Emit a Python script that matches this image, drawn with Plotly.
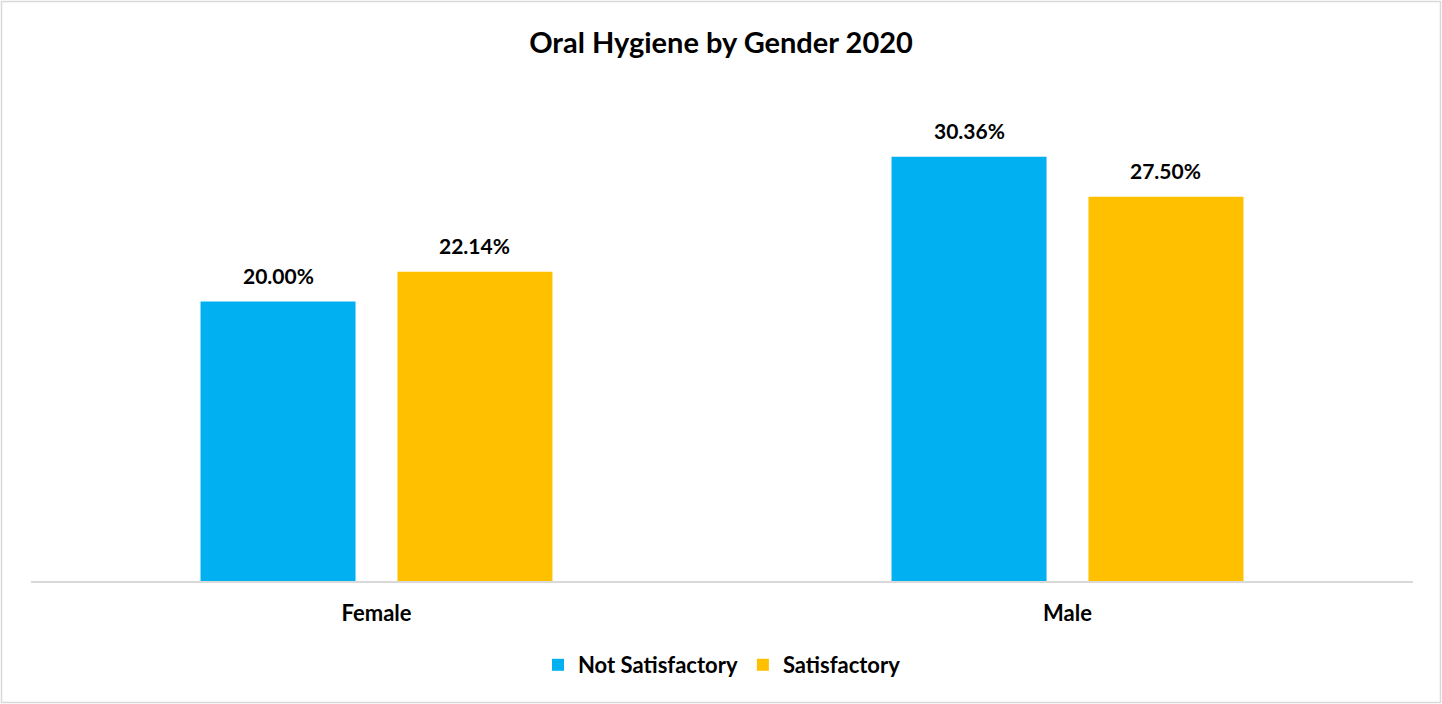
import plotly.graph_objects as go

categories = ["Female", "Male"]
not_satisfactory = [0.2000, 0.3036]
satisfactory = [0.2214, 0.2750]
series_names = ["Not Satisfactory", "Satisfactory"]
colors = ["#00B0F0", "#FFC000"]
title_text = "Oral Hygiene by Gender 2020"

W, H = 1442, 704
ML, MR, MT, MB = 31, 29, 92, 123
PW, PH = W - ML - MR, H - MT - MB

FONT = "Lato"

fig = go.Figure()
for name, vals, col in zip(series_names, [not_satisfactory, satisfactory], colors):
    fig.add_trace(go.Bar(
        x=categories, y=vals, name=f"<b>{name}</b>",
        marker=dict(color=col, line=dict(width=0)),
        hoverinfo="skip",
    ))

# data labels
slot = PW / len(categories) * (1 - 0.43) / 2
for i, vals in enumerate([not_satisfactory, satisfactory]):
    off = (i - 0.5) * slot
    for c, v in zip(categories, vals):
        fig.add_annotation(
            x=c, y=v, xref="x", yref="y", text=f"<b>{v*100:.2f}%</b>",
            showarrow=False, xshift=off, yanchor="bottom", yshift=12,
            font=dict(family=FONT, size=21, color="#000000"),
        )

# chart border
fig.add_shape(
    type="rect", xref="paper", yref="paper",
    x0=-(ML - 1.5) / PW, x1=1 + (MR - 1.5) / PW,
    y0=-(MB - 1.5) / PH, y1=1 + (MT - 1.5) / PH,
    line=dict(color="#D9D9D9", width=1.5), fillcolor="rgba(0,0,0,0)",
)

fig.update_layout(
    width=W, height=H,
    margin=dict(l=ML, r=MR, t=MT, b=MB, pad=0),
    paper_bgcolor="white", plot_bgcolor="white",
    barmode="group", bargap=0.43, bargroupgap=0.213,
    title=dict(text=f"<b>{title_text}</b>", x=0.5, xanchor="center",
               y=1 - 43 / H, yanchor="middle",
               font=dict(family=FONT, size=29, color="#000000")),
    xaxis=dict(showline=True, linecolor="#D9D9D9", linewidth=1.5,
               showgrid=False, ticks="", zeroline=False,
               ticklabelstandoff=12,
               tickfont=dict(family=FONT, size=22, color="#000000"),
               tickprefix="<b>", ticksuffix="</b>"),
    yaxis=dict(range=[0, 0.35], showgrid=False, showticklabels=False,
               zeroline=False, showline=False),
    legend=dict(orientation="h", x=0.5, xanchor="center",
                y=-(665 - 581) / PH, yanchor="middle",
                font=dict(family=FONT, size=22, color="#000000"),
                traceorder="normal"),
    showlegend=True,
)

fig.write_html("out.html", config={"displayModeBar": False},
               post_script="document.body.style.margin='0';document.body.style.overflow='hidden';")
